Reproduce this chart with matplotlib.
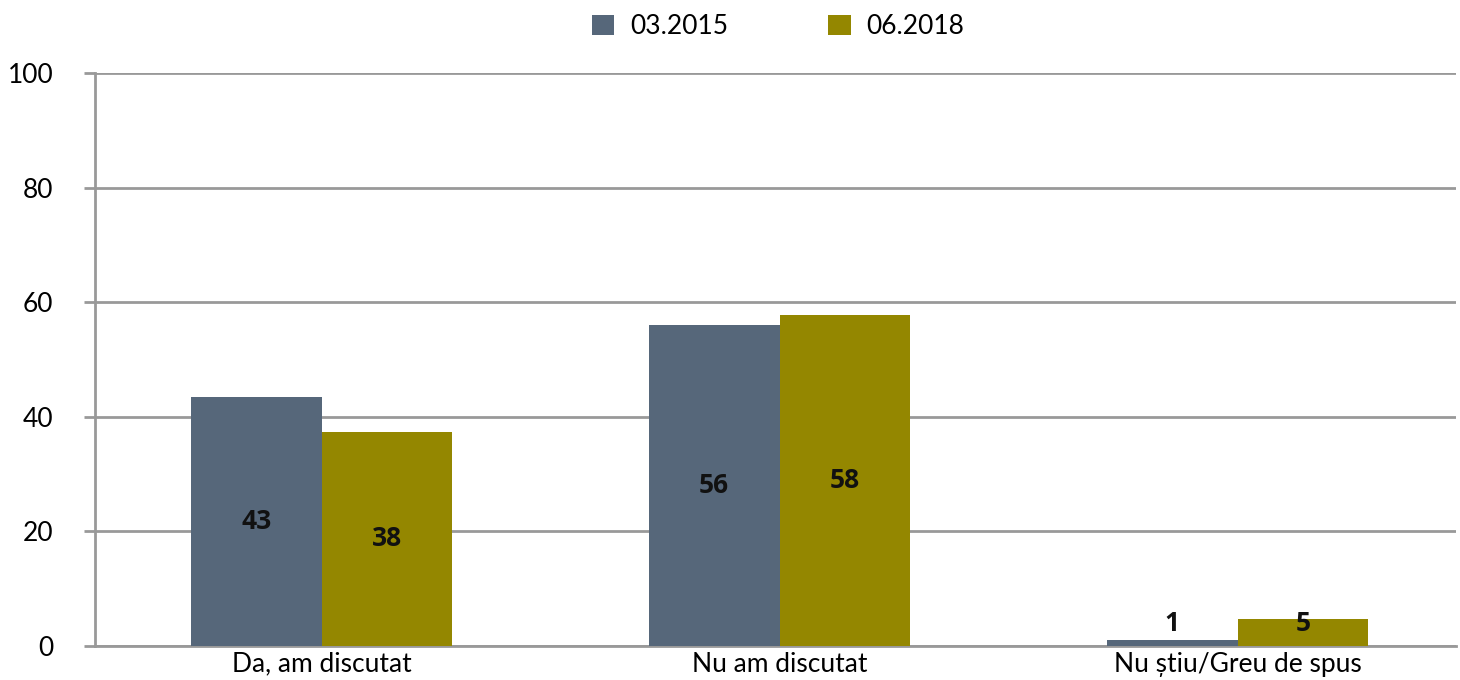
import matplotlib
matplotlib.use("Agg")
import matplotlib.pyplot as plt
import numpy as np

categories = ["Da, am discutat", "Nu am discutat", "Nu știu/Greu de spus"]
series_names = ["03.2015", "06.2018"]
values_2015 = [43.4, 56.0, 1.0]
values_2018 = [37.4, 57.8, 4.7]
labels_2015 = ["43", "56", "1"]
labels_2018 = ["38", "58", "5"]
yticks = [0, 20, 40, 60, 80, 100]

colors = ["#56677A", "#948700"]
plt.rcParams['font.family'] = ['Lato', 'DejaVu Sans']

fig = plt.figure(figsize=(14.6, 6.8), dpi=100)
ax = fig.add_axes([95/1460, 1-646/680, (1456-95)/1460, (646-73)/680])

x = np.arange(len(categories))
w = 0.2854
bars1 = ax.bar(x - w/2, values_2015, w, color=colors[0], label=series_names[0], zorder=3)
bars2 = ax.bar(x + w/2, values_2018, w, color=colors[1], label=series_names[1], zorder=3)

for bars, labs in ((bars1, labels_2015), (bars2, labels_2018)):
    for b, lab in zip(bars, labs):
        h = b.get_height()
        ax.text(b.get_x() + b.get_width()/2, max(h/2, 3.9), lab, ha='center', va='center',
                fontsize=19, fontweight='bold', family=['Open Sans', 'DejaVu Sans'],
                color='#111111', zorder=4)

ax.set_xlim(-0.4946, 2.477)
ax.set_ylim(0, 100)
ax.set_yticks(yticks)
ax.set_yticklabels([str(t) for t in yticks], fontsize=19)
ax.set_xticks(x)
ax.set_xticklabels(categories, fontsize=19)
ax.yaxis.grid(True, color='#999999', linewidth=2, zorder=0)
ax.set_axisbelow(True)
for s in ['top', 'right']:
    ax.spines[s].set_visible(False)
for s in ['left', 'bottom']:
    ax.spines[s].set_color('#999999')
    ax.spines[s].set_linewidth(2)
ax.tick_params(axis='y', length=8, width=2, color='#999999', pad=22)
ax.tick_params(axis='x', length=0, pad=4)

leg = fig.legend(handles=[bars1, bars2], labels=series_names, loc='center',
                 bbox_to_anchor=(778/1460, 1-27/680), ncol=2, frameon=False,
                 fontsize=19, handlelength=0.85, handleheight=0.8, columnspacing=3.8,
                 handletextpad=0.6)

fig.savefig("out.png", dpi=100)
